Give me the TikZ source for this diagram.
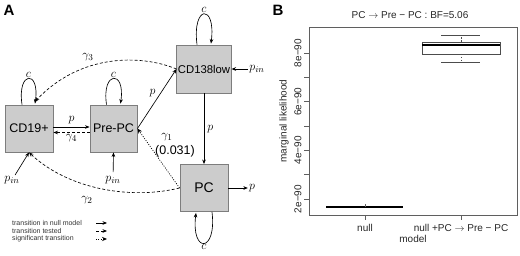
\documentclass[tikz,border=0pt]{standalone}
\usepackage{fontspec}
\setmainfont{Liberation Sans}
\usetikzlibrary{arrows.meta, positioning, calc}
\definecolor{cellfill}{RGB}{204,204,204}
\definecolor{celldraw}{RGB}{125,125,125}
\definecolor{axisgray}{RGB}{95,95,95}

\tikzset{
  cell/.style={draw=celldraw, fill=cellfill, line width=0.9pt, minimum width=48pt, minimum height=47pt, inner sep=1pt, font=\fontsize{12.5}{14}\selectfont},
  trans/.style={-{Stealth[length=4.5pt, width=3.6pt]}, line width=0.65pt},
  tested/.style={trans, dash pattern=on 3pt off 2pt},
  signif/.style={-{Stealth[length=5pt, width=4.2pt]}, line width=0.7pt, dash pattern=on 1pt off 1.4pt},
  lbl/.style={font=\fontsize{12.5}{14}\selectfont, inner sep=1pt},
  legendtext/.style={font=\fontsize{7}{8}\selectfont, text=black!80, inner sep=0pt},
  plottext/.style={font=\fontsize{10}{11}\selectfont, text=black!85},
  axis/.style={draw=axisgray, line width=0.6pt},
}

\begin{document}
\begin{tikzpicture}[x=1pt, y=1pt]
\useasboundingbox (0,0) rectangle (520,255);

% === panel A: transition model ===
\node[font=\fontsize{15}{17}\selectfont\bfseries] (labA) at (9,245) {A};

% cells
\node[cell] (cdnineteen) at (29,126.5) {CD19+};
\node[cell, minimum width=47pt] (prepc) at (113.5,126.5) {Pre-PC};
\node[cell, minimum width=54pt, minimum height=48pt, font=\fontsize{11.3}{13}\selectfont] (cdlow) at (204,186) {CD138low};
\node[cell, font=\fontsize{14}{16}\selectfont] (pc) at (204,67) {PC};

% self loops
\draw[trans] ([xshift=-7pt]cdnineteen.north) .. controls +(-5,34) and +(5,34) .. ([xshift=6pt,yshift=1pt]cdnineteen.north) node[lbl, pos=0.5, above] {$c$};
\draw[trans] ([xshift=-7pt]prepc.north) .. controls +(-5,34) and +(5,34) .. ([xshift=7pt,yshift=1pt]prepc.north) node[lbl, pos=0.5, above] {$c$};
\draw[trans] ([xshift=-7pt]cdlow.north) .. controls +(-5,40) and +(5,40) .. ([xshift=7pt,yshift=1pt]cdlow.north) node[lbl, pos=0.5, above] {$c$};
\draw[trans] ([xshift=8pt]pc.south) .. controls +(5,-41) and +(-5,-41) .. ([xshift=-8pt,yshift=-1pt]pc.south) node[lbl, pos=0.5, below] {$c$};

% transitions of the null model
\draw[trans] ([yshift=1.5pt]cdnineteen.east) -- node[lbl, above=2pt] {$p$} ([yshift=1.5pt]prepc.west);
\draw[trans] (prepc.east) -- node[lbl, above left=1pt and 0pt] {$p$} (cdlow.west);
\draw[trans] (cdlow) -- node[lbl, right=2pt] {$p$} (pc);

% tested transitions
\draw[tested] ([yshift=-4pt]prepc.west) -- node[lbl, below=1pt] {$\gamma_4$} ([yshift=-4pt]cdnineteen.east);
\draw[tested] (pc.west) .. controls (130,55) and (68,66) .. (cdnineteen.south);
\draw[tested] (cdlow.west) .. controls (140,201) and (80,201) .. ([xshift=6pt,yshift=3pt]cdnineteen.north);
\node[lbl] (gtwo) at (87,55) {$\gamma_2$};
\node[lbl] (gthree) at (88,198) {$\gamma_3$};

% significant transition
\draw[signif] (pc.west) -- (prepc.east);
\node[lbl] (gone) at (167,118) {$\gamma_1$};
\node[lbl] (gonebf) at (175,104) {(0.031)};

% inflow and outflow
\node[lbl] (pinnineteen) at (12,75) {$p_{in}$};
\node[lbl] (pinprepc) at (113,75) {$p_{in}$};
\node[lbl] (pinlow) at (257,186) {$p_{in}$};
\node[lbl] (pout) at (252,67) {$p$};
\draw[trans] (pinnineteen) -- (cdnineteen.south);
\draw[trans, shorten <=3pt] (pinprepc) -- (prepc.south);
\draw[trans] (pinlow) -- (cdlow.east);
\draw[trans] (pc) -- (pout);

% legend
\foreach \name/\txt/\sty/\yy in {lnull/transition in null model/trans/32, ltested/transition tested/tested/24, lsignif/significant transition/signif/16} {
  \node[legendtext, anchor=west] (\name) at (12,\yy) {\txt};
  \coordinate (\name a) at (96,\yy);
  \coordinate (\name b) at (107,\yy);
  \draw[\sty] (\name a) -- (\name b);
}

% === panel B: marginal likelihood ===
\node[font=\fontsize{15}{17}\selectfont\bfseries] (labB) at (278,245) {B};
\node[plottext] (title) at (410,240) {PC $\rightarrow$ Pre − PC : BF=5.06};

% frame and axes
\draw[axis] (309,40) rectangle (517,228);
\foreach \v in {2,...,8} {
  \draw[axis] (309,{56+(\v-2)*24.33}) -- ++(-5,0);
}
\foreach \v in {2,4,6,8} {
  \node[plottext, rotate=90] (tick\v) at (298,{56+(\v-2)*24.33}) {\v e−90};
}
\node[plottext, rotate=90] (ylab) at (284,134) {marginal likelihood};
\draw[axis] (365,40) -- ++(0,-5);
\draw[axis] (461,40) -- ++(0,-5);
\node[plottext] (xnull) at (365,27) {null};
\node[plottext] (xalt) at (461,27) {null +PC $\rightarrow$ Pre − PC};
\node[plottext] (xlab) at (413,16) {model};

% boxplot null
\draw[line width=1.6pt] (326,48) -- (403,48);
\draw[black!60, line width=0.4pt] (365,48) -- (365,51);

% boxplot null + PC -> Pre-PC
\draw[black!70, line width=0.6pt] (422,201) rectangle (500,213);
\draw[line width=1.5pt] (422,210) -- (500,210);
\draw[black!70, line width=0.5pt, dash pattern=on 1.5pt off 1.5pt] (461,213) -- (461,220);
\draw[black!70, line width=0.5pt, dash pattern=on 1.5pt off 1.5pt] (461,201) -- (461,193);
\draw[black!70, line width=0.6pt] (441,220) -- (480,220);
\draw[black!70, line width=0.6pt] (441,193) -- (480,193);

\end{tikzpicture}
\end{document}
